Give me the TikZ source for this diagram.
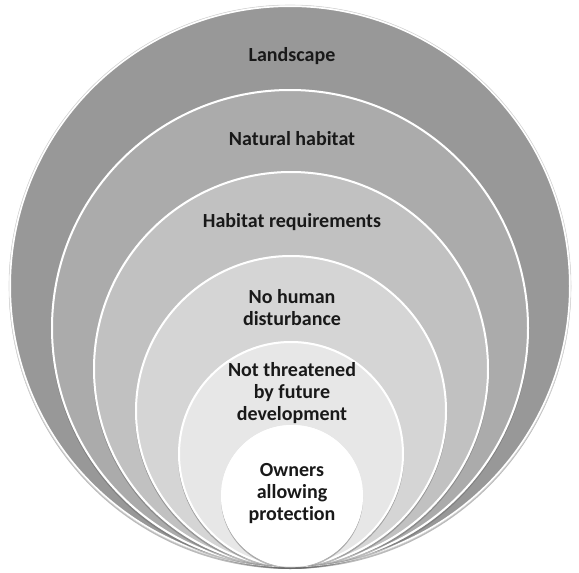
\documentclass[tikz,border=0pt]{standalone}
\usepackage{fontspec}
\setmainfont[Ligatures=NoCommon]{Carlito}
\begin{document}
\begin{tikzpicture}[x=1pt,y=-1pt,
  ring/.style={draw=white,line width=2pt},
  shade/.style={fill=black!60,opacity=0.45},
  lbl/.style={font=\fontsize{20}{22}\selectfont\bfseries,align=center,text=black!90,inner sep=0pt}]
\useasboundingbox (0,0) rectangle (579,573);
\definecolor{c1}{HTML}{989898}
\definecolor{c2}{HTML}{ABABAB}
\definecolor{c3}{HTML}{C1C1C1}
\definecolor{c4}{HTML}{D5D5D5}
\definecolor{c5}{HTML}{E7E7E7}
\definecolor{c6}{HTML}{FFFFFF}
% circles (centre x, centre y, radius)
\foreach \cx/\cy/\r/\c in {290/286/281/c1, 290/328/239/c2, 291/369/198/c3, 291/411/156/c4, 291/454/113/c5, 292/496/71/c6}{
  \fill[shade] (\cx,\cy+2) circle[radius=\r];
  \fill[\c] (\cx,\cy) circle[radius=\r];
  \draw[ring] (\cx,\cy) circle[radius=\r-1];
}
\draw[black!15,line width=0.6pt] (290,286) circle[radius=281];
\node[lbl] (l1) at (292,56) {Landscape};
\node[lbl] (l2) at (292,139) {Natural habitat};
\node[lbl] (l3) at (292,222) {Habitat requirements};
\node[lbl] (l4) at (292,308) {No human\\disturbance};
\node[lbl] (l5) at (292,393) {Not threatened\\by future\\development};
\node[lbl] (l6) at (292,494) {Owners\\allowing\\protection};
\end{tikzpicture}
\end{document}
